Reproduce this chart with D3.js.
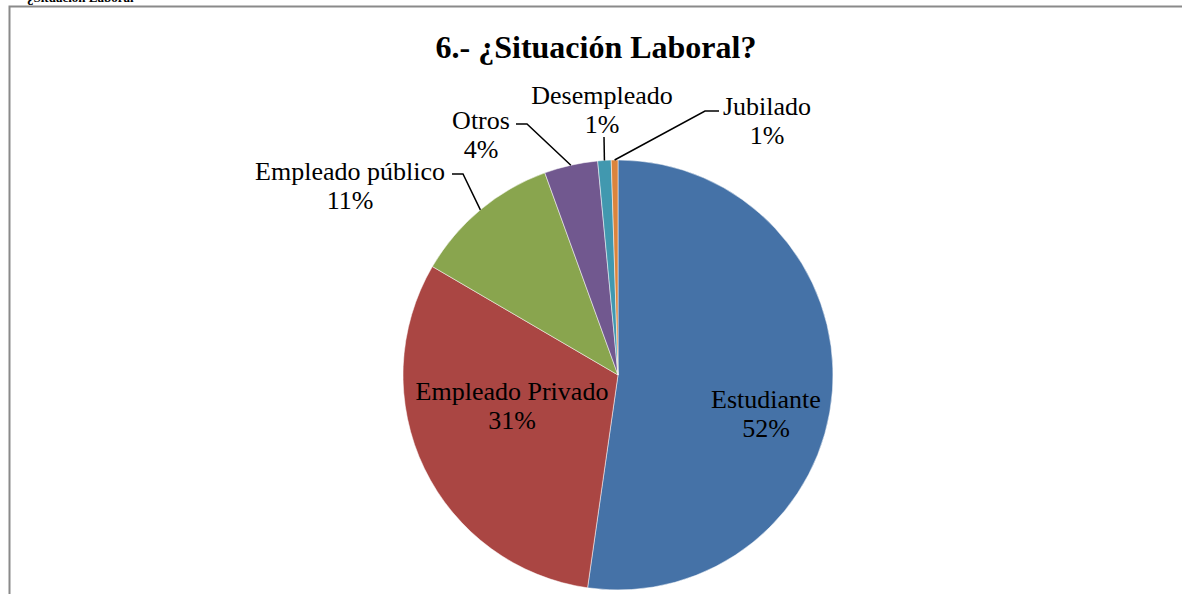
<!DOCTYPE html>
<html>
<head>
<meta charset="utf-8">
<script src="https://cdn.jsdelivr.net/npm/d3@7"></script>
<style>
  html, body { margin: 0; padding: 0; background: #fff; }
  svg { display: block; }
  text { font-family: "Liberation Serif", "Times New Roman", serif; fill: #000; }
</style>
</head>
<body>
<svg id="chart" width="1182" height="594"></svg>
<script>
// survey answers (counts)
var categories = ["Estudiante", "Empleado Privado", "Empleado público", "Otros", "Desempleado", "Jubilado"];
var counts = [104, 62, 22, 8, 2, 1];
var colors = ["#4572A7", "#AA4643", "#89A54E", "#71588F", "#4198AF", "#DB843D"];
var title = "6.- ¿Situación Laboral?";

// label layout: centre of the two-line block, and leader elbow / end (null = inside label)
var labelLayout = [
  {cx: 766, cy: 414, leader: null},
  {cx: 512, cy: 406, leader: null},
  {cx: 350, cy: 186, leader: [[463, 174], [452, 174]]},
  {cx: 481, cy: 135, leader: [[527, 124], [516, 124]]},
  {cx: 602, cy: 110, leader: [[604, 137]]},
  {cx: 767, cy: 121, leader: [[705, 111], [719, 111]]}
];

var svg = d3.select("#chart"),
    cx = 618, cy = 375, radius = 215;

// frame (cut on the right and bottom)
svg.append("path")
    .attr("d", "M9.5,600 L9.5,6.5 L1190,6.5")
    .attr("fill", "none")
    .attr("stroke", "#8a8a8a")
    .attr("stroke-width", 2);

// caption above the frame, cut off by the page top
svg.append("text")
    .attr("x", 27).attr("y", 2)
    .style("font-size", "13px")
    .style("font-weight", 700)
    .text("¿Situación Laboral");

svg.append("text")
    .attr("x", 596).attr("y", 58)
    .attr("text-anchor", "middle")
    .style("font-size", "32px")
    .style("font-weight", 700)
    .text(title);

var data = categories.map(function(c, i) { return {name: c, value: counts[i], color: colors[i]}; });
var total = d3.sum(counts);

var pie = d3.pie().sort(null).value(function(d) { return d.value; });
var arc = d3.arc().innerRadius(0).outerRadius(radius);
var arcs = pie(data);

var g = svg.append("g").attr("transform", "translate(" + cx + "," + cy + ")");

g.selectAll("path.slice")
    .data(arcs)
  .enter().append("path")
    .attr("class", "slice")
    .attr("d", arc)
    .attr("fill", function(d) { return d.data.color; })
    .attr("stroke", "#fff")
    .attr("stroke-width", 0.5);

// leader lines from the slice edge to the label
arcs.forEach(function(d, i) {
  var lay = labelLayout[i];
  if (!lay.leader) return;
  var mid = (d.startAngle + d.endAngle) / 2;
  var pts = [[cx + radius * Math.sin(mid), cy - radius * Math.cos(mid)]].concat(lay.leader);
  svg.append("path")
      .attr("d", d3.line()(pts))
      .attr("fill", "none")
      .attr("stroke", "#000")
      .attr("stroke-width", 1.5);
});

arcs.forEach(function(d, i) {
  var lay = labelLayout[i];
  var pct = Math.round(d.data.value / total * 100) + "%";
  var t = svg.append("text")
      .attr("text-anchor", "middle")
      .style("font-size", "26px");
  t.append("tspan").attr("x", lay.cx).attr("y", lay.cy - 14.5)
      .attr("dominant-baseline", "central").text(d.data.name);
  t.append("tspan").attr("x", lay.cx).attr("y", lay.cy + 14.5)
      .attr("dominant-baseline", "central").text(pct);
});
</script>
</body>
</html>
